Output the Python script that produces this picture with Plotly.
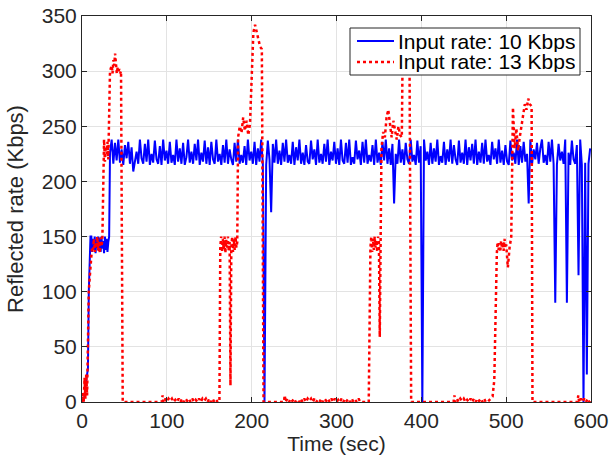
import numpy as np
import plotly.graph_objects as go

# ---- blue series: input rate 10 Kbps ----
blue_t_start = [0, 3, 5, 6, 7, 8, 9, 10] + list(range(11, 33))
blue_v_start = [0, 5, 20, 28, 30, 100, 140, 150,
                150, 136, 148, 138, 150, 135, 147, 140, 150, 137, 149,
                136, 150, 139, 146, 135, 150, 138, 148, 136, 145, 150]

# steady part, t = 33 .. 599
blue_v_steady = [
    226, 238, 216, 235, 219, 238, 217, 229, 215, 233, 221, 236, 216, 231, 224, 218, 227, 216, 238, 221,
    216, 234, 218, 238, 215, 225, 217, 237, 220, 216, 232, 215, 238, 219, 228, 216, 236, 217, 224, 215,
    238, 218, 230, 216, 235, 215, 222, 238, 217, 227, 216, 234, 219, 238, 215, 226, 218, 237, 216, 231,
    215, 236, 220, 216, 238, 218, 225, 215, 233, 217, 238, 216, 229, 220, 215, 235, 218, 238, 216, 224,
    217, 232, 215, 238, 219, 227, 216, 236, 215, 230, 218, 238, 216, 223, 215, 237, 220, 216, 234, 217,
    238, 216, 228, 215, 235, 218, 238, 217, 224, 216, 236, 215, 231, 219, 238, 216, 226, 215, 233, 218,
    216, 237, 220, 229, 215, 238, 217, 225, 216, 234, 218, 238, 215, 227, 219, 236, 216, 230, 215, 238,
    219, 216, 235, 217, 238, 215, 222, 216, 237, 220, 228, 215, 236, 217, 238, 216, 224, 218, 233, 215,
    238, 217, 226, 215, 236, 219, 238, 216, 230, 215, 234, 218, 225, 216, 238, 217, 229, 215, 235, 220,
    216, 238, 218, 224, 215, 237, 217, 232, 216, 238, 219, 227, 215, 235, 216, 230, 218, 238, 215, 223,
    217, 236, 215, 229, 218, 238, 216, 233, 220, 215, 237, 217, 226, 216, 238, 215, 231, 219, 234, 216,
    238, 215, 227, 217, 235, 216, 238, 218, 224, 215, 236, 220, 230, 216, 238, 217, 228, 215, 233, 218,
    215, 237, 219, 226, 216, 238, 215, 232, 217, 236, 218, 225, 216, 238, 215, 229, 220, 235, 216, 230,
    238, 217, 224, 215, 236, 218, 238, 216, 231, 215, 234, 219, 227, 216, 238, 217, 226, 215, 237, 220,
    216, 233, 218, 238, 215, 228, 217, 236, 216, 230,
]
# drops in the steady part
blue_dip_t = [61, 215, 222, 368, 401, 526, 557, 571, 586, 591, 595]
blue_dip_v = [209, 0, 172, 180, 0, 180, 90, 90, 115, 0, 25]

# ---- red series: input rate 13 Kbps ----
red_t = ([0, 1, 2, 3, 4, 5, 6, 7, 8, 9, 10, 11, 12]
         + list(range(13, 25))
         + list(range(25, 32))
         + [33, 35, 36, 37, 38, 39, 40, 41, 42, 43, 44, 45, 46, 48]
         + [94, 95]
         + list(range(96, 163, 2))
         + list(range(163, 184))
         + [184, 186, 188, 190, 192, 194, 196, 198]
         + [200, 202, 204, 206, 208, 210, 212, 214]
         + [238, 239]
         + list(range(240, 330, 2))
         + [338] + list(range(340, 352))
         + list(range(353, 376, 2))
         + [377, 378, 380, 382, 384, 386, 388]
         + [438, 439]
         + list(range(440, 478, 2))
         + [478, 484, 486, 488] + list(range(489, 501)) + [502, 504]
         + [506, 508, 510, 512, 514, 516, 518, 520, 522, 524, 526, 528, 530, 531]
         + [584, 585]
         + list(range(586, 601, 2)))

red_v = ([0, 8, 0, 22, 3, 25, 6, 60, 100, 112, 126, 132, 140]
         + [138, 148, 136, 145, 140, 150, 137, 146, 135, 149, 141, 147]
         + [215, 238, 218, 232, 225, 236, 220]
         + [300, 305, 298, 310, 305, 316, 302, 298, 303, 300, 302, 298, 300, 0]
         + [0, 6]
         + [0, 3, 0, 3, 1, 3, 0, 2, 0, 3, 0, 3, 0, 3, 1, 3, 0,
            3, 0, 2, 0, 3, 0, 3, 1, 3, 0, 3, 0, 3, 0, 2, 0, 0]
         + [140, 150, 136, 148, 138, 150, 135, 147, 140, 150, 137, 145,
            15, 140, 150, 136, 148, 138, 150, 140, 145]
         + [240, 250, 244, 258, 246, 255, 242, 252]
         + [300, 335, 342, 336, 330, 322, 320, 0]
         + [0, 6]
         + [0, 3, 0, 3, 1, 3, 0, 2, 0, 3, 0, 3, 0, 3, 1, 3, 0, 3, 0, 2, 0, 3, 0,
            3, 1, 3, 0, 3, 0, 3, 0, 2, 0, 3, 0, 3, 1, 3, 0, 3, 0, 2, 0, 3, 0]
         + [0, 140, 150, 136, 148, 138, 150, 140, 147, 136, 150, 145, 59]
         + [230, 245, 240, 258, 265, 250, 240, 255, 245, 238, 250, 242]
         + [240, 320, 325, 300, 330, 320, 0]
         + [0, 6]
         + [0, 3, 0, 3, 1, 3, 0, 2, 0, 3, 0, 3, 0, 3, 1, 3, 0, 3, 0]
         + [0, 5, 20, 110, 135, 145, 138, 144, 136, 146, 140, 145, 137, 148, 140, 143, 122, 140]
         + [150, 267, 230, 248, 228, 240, 250, 262, 270, 265, 275, 270, 268, 0]
         + [0, 6]
         + [0, 3, 0, 3, 0, 3, 0, 2])

series_names = ["Input rate: 10 Kbps", "Input rate: 13 Kbps"]

assert len(red_t) == len(red_v), (len(red_t), len(red_v))
assert len(blue_t_start) == len(blue_v_start)

# assemble blue
steady_t = np.linspace(33, 599, len(blue_v_steady))
steady_v = np.array(blue_v_steady, dtype=float)
for t, v in zip(blue_dip_t, blue_dip_v):
    steady_v[np.argmin(np.abs(steady_t - t))] = v
blue_t = list(blue_t_start) + list(steady_t)
blue_v = list(blue_v_start) + list(steady_v)

blue_line = dict(color="#0000ff", width=2)
red_line = dict(color="#ff0000", width=2.5, dash="dot")

fig = go.Figure()
fig.add_trace(go.Scatter(x=blue_t, y=blue_v, mode="lines", name=series_names[0], line=blue_line))
fig.add_trace(go.Scatter(x=red_t, y=red_v, mode="lines", name=series_names[1], line=red_line))

axis_common = dict(showline=True, linecolor="#262626", linewidth=1, mirror="ticks",
                   ticks="inside", ticklen=5, tickcolor="#262626", automargin=False,
                   showgrid=True, gridcolor="#e3e3e3", gridwidth=1, zeroline=False,
                   tickfont=dict(size=21, color="#262626"))

fig.update_xaxes(range=[0, 600], tickvals=[0, 100, 200, 300, 400, 500, 600],
                 title=dict(text="Time (sec)", font=dict(size=21, color="#262626"), standoff=2),
                 **axis_common)
fig.update_yaxes(range=[0, 350], tickvals=[0, 50, 100, 150, 200, 250, 300, 350],
                 title=dict(text="Reflected rate (Kbps)", font=dict(size=22, color="#262626"), standoff=12),
                 **axis_common)

# legend box drawn in paper coordinates (plot area: 82..591 px, 16..402 px)
def px(x):
    return (x - 82) / 509.0

def py(y):
    return (402 - y) / 386.0

fig.add_shape(type="rect", xref="paper", yref="paper",
              x0=px(350), x1=px(580), y0=py(75), y1=py(28),
              line=dict(color="#262626", width=1), fillcolor="white", layer="above")
for i, (name, ln) in enumerate(zip(series_names, [blue_line, red_line])):
    yy = py(41 + 21 * i)
    fig.add_shape(type="line", xref="paper", yref="paper",
                  x0=px(357), x1=px(394), y0=yy, y1=yy, line=ln, layer="above")
    fig.add_annotation(xref="paper", yref="paper", x=px(396), y=yy, text=name,
                       showarrow=False, xanchor="left", yanchor="middle", height=21,
                       font=dict(size=21, color="#000000"))

fig.update_layout(
    width=611, height=460,
    margin=dict(l=82, r=20, t=16, b=58),
    paper_bgcolor="white", plot_bgcolor="white",
    font=dict(family="Liberation Sans, Arial, sans-serif", color="#262626"),
    showlegend=False,
)

# drop the default 8 px body margin of the page
fig.write_html("out.html", config={"displayModeBar": False},
               post_script="document.body.style.margin='0px';")
